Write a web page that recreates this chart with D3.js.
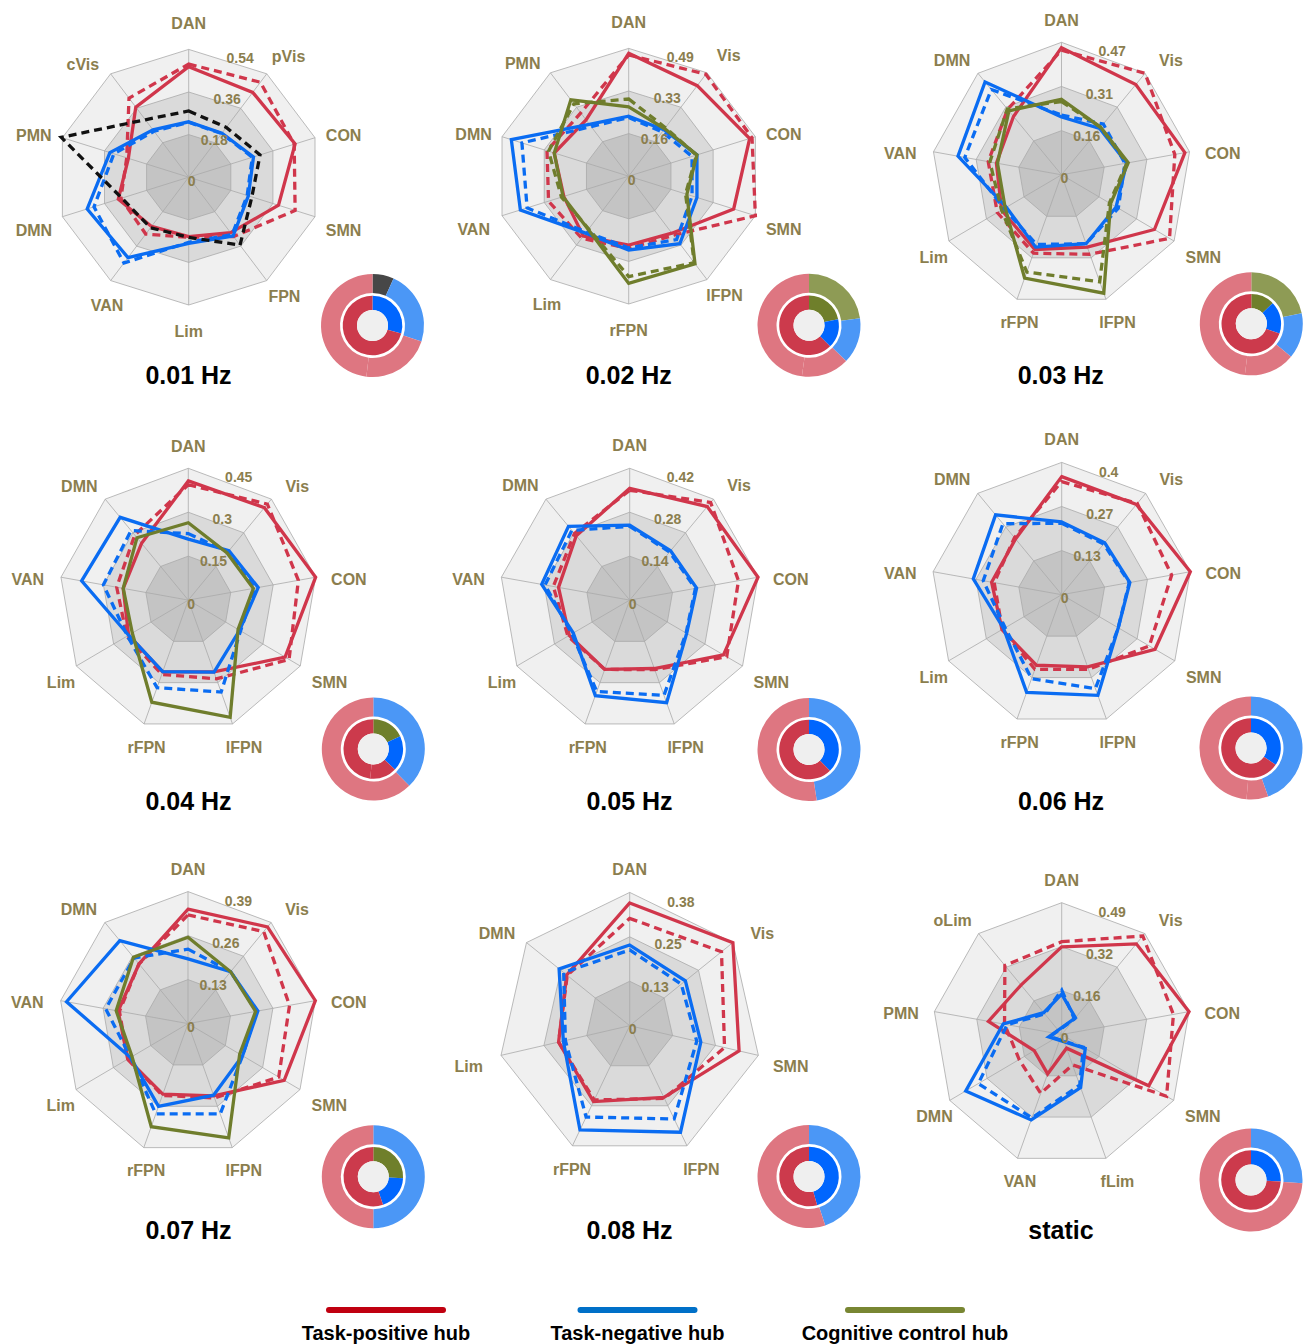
<!DOCTYPE html>
<html>
<head>
<meta charset="utf-8">
<script src="https://cdn.jsdelivr.net/npm/d3@7"></script>
<style>
  body { margin: 0; background: #ffffff; }
  svg text { font-family: "Liberation Sans", Arial, sans-serif; }
</style>
</head>
<body>
<svg id="fig" width="1303" height="1344"></svg>
<script>
// ---------- panel titles ----------
const titles = ["0.01 Hz", "0.02 Hz", "0.03 Hz", "0.04 Hz", "0.05 Hz", "0.06 Hz", "0.07 Hz", "0.08 Hz", "static"];

// ---------- 0.01 Hz ----------
const hz01Axes = ["DAN", "pVis", "CON", "SMN", "FPN", "Lim", "VAN", "DMN", "PMN", "cVis"];
const hz01Ticks = [0, 0.18, 0.36, 0.54];
const hz01PosSolid  = [0.467, 0.443, 0.455, 0.384, 0.290, 0.251, 0.257, 0.301, 0.258, 0.366];
const hz01PosDashed = [0.478, 0.496, 0.451, 0.455, 0.310, 0.254, 0.297, 0.290, 0.265, 0.413];
const hz01NegSolid  = [0.234, 0.230, 0.277, 0.255, 0.307, 0.280, 0.420, 0.434, 0.337, 0.247];
const hz01NegDashed = [0.232, 0.228, 0.272, 0.250, 0.300, 0.275, 0.448, 0.405, 0.320, 0.240];
const hz01OtherDashed = [0.280, 0.260, 0.305, 0.270, 0.355, 0.254, 0.264, 0.286, 0.545, 0.300];
const hz01Outer = [["other", 6.7], ["neg", 23.3], ["pos", 21.9], ["pos", 48.1]];
const hz01Inner = [["neg", 29.3], ["pos", 70.7]];

// ---------- 0.02 Hz ----------
const hz02Axes = ["DAN", "Vis", "CON", "SMN", "lFPN", "rFPN", "Lim", "VAN", "DMN", "PMN"];
const hz02Ticks = [0, 0.16, 0.33, 0.49];
const hz02PosSolid  = [0.471, 0.429, 0.468, 0.406, 0.270, 0.264, 0.284, 0.251, 0.288, 0.267];
const hz02PosDashed = [0.465, 0.483, 0.477, 0.490, 0.280, 0.277, 0.294, 0.310, 0.316, 0.300];
const hz02NegSolid  = [0.230, 0.220, 0.264, 0.264, 0.320, 0.283, 0.270, 0.419, 0.454, 0.246];
const hz02NegDashed = [0.225, 0.210, 0.245, 0.245, 0.300, 0.275, 0.265, 0.393, 0.413, 0.235];
const hz02CcSolid   = [0.266, 0.225, 0.264, 0.225, 0.415, 0.411, 0.253, 0.254, 0.288, 0.362];
const hz02CcDashed  = [0.296, 0.230, 0.262, 0.220, 0.410, 0.385, 0.250, 0.260, 0.310, 0.343];
const hz02Outer = [["cc", 22.8], ["neg", 14.4], ["pos", 15.0], ["pos", 47.8]];
const hz02Inner = [["cc", 21.7], ["neg", 15.8], ["pos", 62.5]];

// ---------- 0.03 Hz ----------
const hz03Axes = ["DAN", "Vis", "CON", "SMN", "lFPN", "rFPN", "Lim", "VAN", "DMN"];
const hz03Ticks = [0, 0.16, 0.31, 0.47];
const hz03PosSolid  = [0.451, 0.418, 0.453, 0.388, 0.273, 0.282, 0.250, 0.239, 0.270];
const hz03PosDashed = [0.442, 0.470, 0.416, 0.451, 0.300, 0.296, 0.268, 0.269, 0.303];
const hz03NegSolid  = [0.205, 0.215, 0.239, 0.228, 0.260, 0.273, 0.230, 0.380, 0.430];
const hz03NegDashed = [0.212, 0.235, 0.233, 0.237, 0.260, 0.263, 0.240, 0.355, 0.395];
const hz03CcSolid   = [0.268, 0.220, 0.245, 0.205, 0.447, 0.390, 0.235, 0.235, 0.296];
const hz03CcDashed  = [0.260, 0.220, 0.240, 0.200, 0.404, 0.367, 0.250, 0.263, 0.305];
const hz03Outer = [["cc", 21.7], ["neg", 14.3], ["pos", 16.0], ["pos", 48.0]];
const hz03Inner = [["cc", 12.8], ["neg", 17.5], ["pos", 69.7]];

// ---------- 0.04 Hz ----------
const hz04Axes = ["DAN", "Vis", "CON", "SMN", "lFPN", "rFPN", "Lim", "VAN", "DMN"];
const hz04Ticks = [0, 0.15, 0.3, 0.45];
const hz04PosSolid  = [0.407, 0.412, 0.450, 0.389, 0.261, 0.261, 0.240, 0.230, 0.253];
const hz04PosDashed = [0.394, 0.428, 0.389, 0.405, 0.286, 0.270, 0.247, 0.253, 0.290];
const hz04NegSolid  = [0.208, 0.220, 0.247, 0.206, 0.262, 0.260, 0.240, 0.377, 0.369];
const hz04NegDashed = [0.227, 0.215, 0.235, 0.210, 0.334, 0.318, 0.245, 0.300, 0.310];
const hz04CcSolid   = [0.264, 0.210, 0.230, 0.200, 0.426, 0.371, 0.225, 0.230, 0.278];
const hz04Outer = [["neg", 37.7], ["pos", 62.3]];
const hz04Inner = [["cc", 17.9], ["neg", 19.2], ["pos", 14.6], ["pos", 48.3]];

// ---------- 0.05 Hz ----------
const hz05Axes = ["DAN", "Vis", "CON", "SMN", "lFPN", "rFPN", "Lim", "VAN", "DMN"];
const hz05Ticks = [0, 0.14, 0.28, 0.42];
const hz05PosSolid  = [0.356, 0.389, 0.420, 0.349, 0.232, 0.235, 0.225, 0.233, 0.268];
const hz05PosDashed = [0.350, 0.406, 0.356, 0.361, 0.236, 0.235, 0.230, 0.250, 0.277];
const hz05NegSolid  = [0.239, 0.205, 0.219, 0.212, 0.348, 0.324, 0.210, 0.288, 0.307];
const hz05NegDashed = [0.235, 0.200, 0.215, 0.210, 0.323, 0.310, 0.215, 0.277, 0.290];
const hz05Outer = [["neg", 47.6], ["pos", 52.4]];
const hz05Inner = [["neg", 37.6], ["pos", 62.4]];

// ---------- 0.06 Hz ----------
const hz06Axes = ["DAN", "Vis", "CON", "SMN", "lFPN", "rFPN", "Lim", "VAN", "DMN"];
const hz06Ticks = [0, 0.13, 0.27, 0.4];
const hz06PosSolid  = [0.357, 0.356, 0.400, 0.330, 0.232, 0.227, 0.211, 0.218, 0.220];
const hz06PosDashed = [0.342, 0.360, 0.342, 0.310, 0.240, 0.240, 0.210, 0.210, 0.225];
const hz06NegSolid  = [0.220, 0.205, 0.212, 0.200, 0.324, 0.314, 0.205, 0.275, 0.315];
const hz06NegDashed = [0.216, 0.200, 0.210, 0.200, 0.302, 0.270, 0.200, 0.244, 0.280];
const hz06Outer = [["neg", 44.6], ["pos", 6.8], ["pos", 48.6]];
const hz06Inner = [["neg", 34.5], ["pos", 65.5]];

// ---------- 0.07 Hz ----------
const hz07Axes = ["DAN", "Vis", "CON", "SMN", "lFPN", "rFPN", "Lim", "VAN", "DMN"];
const hz07Ticks = [0, 0.13, 0.26, 0.39];
const hz07PosSolid  = [0.338, 0.373, 0.390, 0.335, 0.227, 0.222, 0.210, 0.214, 0.230];
const hz07PosDashed = [0.321, 0.355, 0.311, 0.316, 0.234, 0.226, 0.210, 0.210, 0.230];
const hz07NegSolid  = [0.191, 0.200, 0.214, 0.190, 0.225, 0.260, 0.200, 0.372, 0.320];
const hz07NegDashed = [0.220, 0.200, 0.210, 0.190, 0.284, 0.284, 0.200, 0.252, 0.253];
const hz07CcSolid   = [0.255, 0.200, 0.207, 0.180, 0.359, 0.324, 0.195, 0.220, 0.256];
const hz07Outer = [["neg", 50.0], ["pos", 50.0]];
const hz07Inner = [["cc", 25.8], ["neg", 18.9], ["pos", 55.3]];

// ---------- 0.08 Hz ----------
const hz08Axes = ["DAN", "Vis", "SMN", "lFPN", "rFPN", "Lim", "DMN"];
const hz08Ticks = [0, 0.13, 0.25, 0.38];
const hz08PosSolid  = [0.350, 0.380, 0.323, 0.227, 0.240, 0.210, 0.232];
const hz08PosDashed = [0.306, 0.338, 0.280, 0.230, 0.235, 0.210, 0.230];
const hz08NegSolid  = [0.230, 0.205, 0.210, 0.337, 0.330, 0.196, 0.260];
const hz08NegDashed = [0.216, 0.190, 0.198, 0.295, 0.289, 0.190, 0.243];
const hz08Outer = [["neg", 44.9], ["pos", 55.1]];
const hz08Inner = [["neg", 45.6], ["pos", 54.4]];

// ---------- static ----------
const stAxes = ["DAN", "Vis", "CON", "SMN", "fLim", "VAN", "DMN", "PMN", "oLim"];
const stTicks = [0, 0.16, 0.32, 0.49];
const stPosSolid  = [0.326, 0.440, 0.490, 0.381, 0.054, 0.156, 0.120, 0.282, 0.240];
const stPosDashed = [0.345, 0.478, 0.430, 0.459, 0.120, 0.233, 0.186, 0.220, 0.335];
const stNegSolid  = [0.150, 0.081, -0.050, 0.103, 0.210, 0.338, 0.420, 0.225, 0.106];
const stNegDashed = [0.165, 0.075, -0.045, 0.095, 0.200, 0.330, 0.365, 0.210, 0.100];
const stOuter = [["neg", 26.0], ["pos", 74.0]];
const stInner = [["neg", 25.8], ["pos", 74.2]];

// ---------- legend ----------
const legendKeys = ["pos", "neg", "cc"];
const legendLabels = ["Task-positive hub", "Task-negative hub", "Cognitive control hub"];

// ---------- styling ----------
const lineColor  = { pos: "#d0364b", neg: "#0a6cf2", cc: "#6f7d2c", other: "#111111" };
const legendColor = { pos: "#c00010", neg: "#0070c8", cc: "#788632" };
const outerRingColor = { pos: "#de7681", neg: "#4b97f6", cc: "#8e9b55", other: "#474747" };
const innerRingColor = { pos: "#cc3a4c", neg: "#0066fe", cc: "#6f7f2b", other: "#333333" };
const bandFill = ["#c4c4c4", "#dadada", "#f0f0f0"];
const gridStroke = "#a9a9a9";
const nameColor = "#8b7e4e";

// radar geometry of each panel (centre and radii in px)
const radarLayout = [
  { cx: 188.7, cy: 177.2, rx: 132.8, ry: 127.8 },
  { cx: 628.7, cy: 176.2, rx: 133.2, ry: 127.8 },
  { cx: 1061.5, cy: 174.8, rx: 130.0, ry: 132.5 },
  { cx: 188.3, cy: 600.1, rx: 129.3, ry: 131.8 },
  { cx: 629.7, cy: 600.1, rx: 130.3, ry: 131.8 },
  { cx: 1061.7, cy: 594.7, rx: 130.6, ry: 132.3 },
  { cx: 188.0, cy: 1023.6, rx: 129.3, ry: 132.0 },
  { cx: 629.7, cy: 1025.7, rx: 132.0, ry: 133.3 },
  { cx: 1061.7, cy: 1034.5, rx: 129.3, ry: 131.8 }
];
const donutCenters = [
  [372.5, 325.5], [809, 325.3], [1251.3, 323.8],
  [373.3, 749], [809, 749.5], [1251, 748],
  [373.3, 1176.7], [809, 1176.5], [1251, 1180]
];
const titleX = [188.5, 628.8, 1060.8, 188.5, 629.5, 1061, 188.5, 629.5, 1061];
const titleBaseline = [383.5, 383.5, 383.5, 810, 810, 810, 1239.3, 1239.3, 1239.3];

function S(key, dashed, values) { return { key, dashed, values }; }

const panels = [
  { axes: hz01Axes, ticks: hz01Ticks, outer: hz01Outer, inner: hz01Inner,
    series: [S("pos", true, hz01PosDashed), S("pos", false, hz01PosSolid),
             S("neg", true, hz01NegDashed), S("neg", false, hz01NegSolid),
             S("other", true, hz01OtherDashed)] },
  { axes: hz02Axes, ticks: hz02Ticks, outer: hz02Outer, inner: hz02Inner,
    series: [S("pos", true, hz02PosDashed), S("pos", false, hz02PosSolid),
             S("neg", true, hz02NegDashed), S("neg", false, hz02NegSolid),
             S("cc", true, hz02CcDashed), S("cc", false, hz02CcSolid)] },
  { axes: hz03Axes, ticks: hz03Ticks, outer: hz03Outer, inner: hz03Inner,
    series: [S("pos", true, hz03PosDashed), S("pos", false, hz03PosSolid),
             S("neg", true, hz03NegDashed), S("neg", false, hz03NegSolid),
             S("cc", true, hz03CcDashed), S("cc", false, hz03CcSolid)] },
  { axes: hz04Axes, ticks: hz04Ticks, outer: hz04Outer, inner: hz04Inner,
    series: [S("pos", true, hz04PosDashed), S("pos", false, hz04PosSolid),
             S("neg", true, hz04NegDashed), S("neg", false, hz04NegSolid),
             S("cc", false, hz04CcSolid)] },
  { axes: hz05Axes, ticks: hz05Ticks, outer: hz05Outer, inner: hz05Inner,
    series: [S("pos", true, hz05PosDashed), S("pos", false, hz05PosSolid),
             S("neg", true, hz05NegDashed), S("neg", false, hz05NegSolid)] },
  { axes: hz06Axes, ticks: hz06Ticks, outer: hz06Outer, inner: hz06Inner,
    series: [S("pos", true, hz06PosDashed), S("pos", false, hz06PosSolid),
             S("neg", true, hz06NegDashed), S("neg", false, hz06NegSolid)] },
  { axes: hz07Axes, ticks: hz07Ticks, outer: hz07Outer, inner: hz07Inner,
    series: [S("pos", true, hz07PosDashed), S("pos", false, hz07PosSolid),
             S("neg", true, hz07NegDashed), S("neg", false, hz07NegSolid),
             S("cc", false, hz07CcSolid)] },
  { axes: hz08Axes, ticks: hz08Ticks, outer: hz08Outer, inner: hz08Inner,
    series: [S("pos", true, hz08PosDashed), S("pos", false, hz08PosSolid),
             S("neg", true, hz08NegDashed), S("neg", false, hz08NegSolid)] },
  { axes: stAxes, ticks: stTicks, outer: stOuter, inner: stInner,
    series: [S("pos", true, stPosDashed), S("pos", false, stPosSolid),
             S("neg", true, stNegDashed), S("neg", false, stNegSolid)] }
];

const svg = d3.select("#fig");

panels.forEach((p, pi) => {
  const L = radarLayout[pi];
  const n = p.axes.length;
  const maxVal = p.ticks[p.ticks.length - 1];
  const r = d3.scaleLinear().domain([0, maxVal]).range([0, 1]);
  const angle = i => i * 2 * Math.PI / n;
  const px = (f, th) => L.cx + f * L.rx * Math.sin(th);
  const py = (f, th) => L.cy - f * L.ry * Math.cos(th);
  const g = svg.append("g").attr("class", "radar");

  // shaded grid bands, outermost first
  const ringLine = d3.line().curve(d3.curveLinearClosed);
  [3, 2, 1].forEach(k => {
    const f = k / 3;
    g.append("path")
      .attr("d", ringLine(d3.range(n).map(i => [px(f, angle(i)), py(f, angle(i))])))
      .attr("fill", bandFill[k - 1])
      .attr("stroke", gridStroke)
      .attr("stroke-width", 0.8);
  });

  // spokes
  g.selectAll("line.spoke").data(d3.range(n)).join("line")
    .attr("class", "spoke")
    .attr("x1", L.cx).attr("y1", L.cy)
    .attr("x2", i => px(1, angle(i))).attr("y2", i => py(1, angle(i)))
    .attr("stroke", gridStroke).attr("stroke-width", 0.8);

  // series polygons
  const line = d3.line()
    .x((v, i) => px(r(v), angle(i)))
    .y((v, i) => py(r(v), angle(i)))
    .curve(d3.curveLinearClosed);
  p.series.forEach(s => {
    g.append("path")
      .attr("d", line(s.values))
      .attr("fill", "none")
      .attr("stroke", lineColor[s.key])
      .attr("stroke-width", 3.3)
      .attr("stroke-linejoin", "miter")
      .attr("stroke-dasharray", s.dashed ? "8,5" : null);
  });

  // radial tick labels
  const tickDir = 17 * Math.PI / 180;
  g.selectAll("text.tick").data(p.ticks).join("text")
    .attr("class", "tick")
    .attr("x", (t, k) => L.cx - 1 + (k / 3) * L.rx * Math.sin(tickDir))
    .attr("y", (t, k) => L.cy + 3.5 - (k / 3) * L.ry * Math.cos(tickDir))
    .attr("dy", "0.35em")
    .attr("font-size", 14).attr("font-weight", "bold")
    .attr("fill", nameColor)
    .text(t => String(t));

  // axis names, centred on a ring just outside the grid
  const avgR = (L.rx + L.ry) / 2;
  const nameX = i => {
    const s = Math.sin(angle(i)), c = Math.cos(angle(i));
    const reach = avgR + 32.5 + 14 * Math.max(0, c - 0.3);
    const lowerLeft = (s < -0.2 && c < -0.5) ? 14 : 0;
    const upperLeft = (s < -0.5 && c > 0.78 && c < 0.9) ? -6 : 0;
    return L.cx + reach * s + lowerLeft + upperLeft;
  };
  const nameY = i => {
    const s = Math.sin(angle(i)), c = Math.cos(angle(i));
    let y = L.cy - (avgR + 23.5) * c + 6 * Math.abs(s);
    if (s > 0.5 && c < -0.6 && c > -0.9) y -= 9;   // lower-right diagonal
    if (s < -0.5 && c > 0.78 && c < 0.9) y += 8;   // upper-left diagonal
    return y;
  };
  g.selectAll("text.axis-name").data(p.axes).join("text")
    .attr("class", "axis-name")
    .attr("text-anchor", "middle")
    .attr("dy", "0.35em")
    .attr("font-size", 16).attr("font-weight", "bold")
    .attr("fill", nameColor)
    .attr("x", (d, i) => nameX(i))
    .attr("y", (d, i) => nameY(i))
    .text(d => d);

  // title
  svg.append("text")
    .attr("x", titleX[pi]).attr("y", titleBaseline[pi])
    .attr("text-anchor", "middle")
    .attr("font-size", 25).attr("font-weight", "bold")
    .attr("fill", "#000")
    .text(titles[pi]);

  // share donut
  const [dx, dy] = donutCenters[pi];
  const dg = svg.append("g").attr("transform", `translate(${dx},${dy})`);
  const pie = d3.pie().sort(null).value(d => d[1]);
  const outerArc = d3.arc().innerRadius(32.5).outerRadius(51.5);
  const innerArc = d3.arc().innerRadius(15.5).outerRadius(29.8);
  dg.selectAll("path.outer").data(pie(p.outer)).join("path")
    .attr("class", "outer")
    .attr("d", outerArc)
    .attr("fill", d => outerRingColor[d.data[0]]);
  dg.selectAll("path.inner").data(pie(p.inner)).join("path")
    .attr("class", "inner")
    .attr("d", innerArc)
    .attr("fill", d => innerRingColor[d.data[0]]);
  dg.append("circle").attr("r", 15.5).attr("fill", "#efefef");
});

// legend
const legendX = [386, 637.5, 905];
const lg = svg.append("g");
legendKeys.forEach((k, i) => {
  lg.append("line")
    .attr("x1", legendX[i] - 57).attr("x2", legendX[i] + 57)
    .attr("y1", 1310).attr("y2", 1310)
    .attr("stroke", legendColor[k]).attr("stroke-width", 6)
    .attr("stroke-linecap", "round");
  lg.append("text")
    .attr("x", legendX[i]).attr("y", 1340)
    .attr("text-anchor", "middle")
    .attr("font-size", 20).attr("font-weight", "bold")
    .attr("fill", "#000")
    .text(legendLabels[i]);
});
</script>
</body>
</html>
